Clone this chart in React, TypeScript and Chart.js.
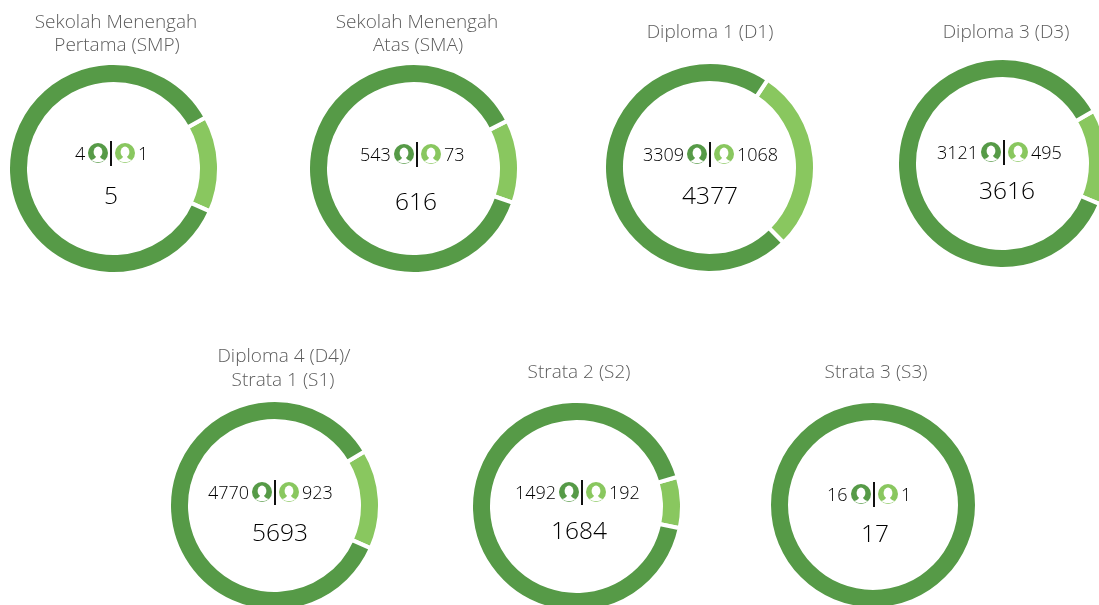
import React, { useEffect, useRef } from "react";
import { Chart, registerables } from "chart.js";

Chart.register(...registerables);

const DARK = "#569a47";
const LIGHT = "#89c75f";
const FONT = '"Open Sans", sans-serif';

const titles = [
  ["Sekolah Menengah", "Pertama (SMP)"],
  ["Sekolah Menengah", "Atas (SMA)"],
  ["Diploma 1 (D1)"],
  ["Diploma 3 (D3)"],
  ["Diploma 4 (D4)/", "Strata 1 (S1)"],
  ["Strata 2 (S2)"],
  ["Strata 3 (S3)"],
];
const male = [4, 543, 3309, 3121, 4770, 1492, 16];
const female = [1, 73, 1068, 495, 923, 192, 1];
const totals = [5, 616, 4377, 3616, 5693, 1684, 17];

const lightArcDegrees = [53, 46, 102, 52.6, 55, 28.3, 0];
const lightArcStart = [61, 63, 33.5, 60, 59, 73.6, 0];

const centerX = [113.5, 413.5, 709.5, 1002.5, 274.5, 576.5, 873.3];
const centerY = [168, 168.5, 167, 163.5, 505, 506, 504.5];
const radii = [103.5, 103.5, 103.5, 103.5, 103.5, 103.5, 102];
const titleX = [[116, 116.5], [416.5, 418], [710], [1005.5], [283.5, 283], [579], [876]];
const titleY = [[21, 44], [21, 44], [31], [31], [355, 379], [371], [371]];
const dividerX = [111, 417, 710, 1004, 275, 582, 874];
const dividerY = [153, 154, 154, 152, 492, 492, 494];
const totalX = [111, 415.5, 710, 1007, 280, 579, 875];
const totalY = [195, 201, 195, 190, 532, 530, 533];

const RING = 17;
const GAP = 4;

function Person({ color, x, y }: { color: string; x: number; y: number }) {
  return (
    <svg width={20} height={20} viewBox="0 0 20 20" style={{ position: "absolute", left: x, top: y }}>
      <circle cx={10} cy={10} r={10} fill={color} />
      <ellipse cx={10} cy={9} rx={4.4} ry={5.4} fill="#fff" />
      <path d="M3 17 Q7.5 16 8.2 13 L11.8 13 Q12.5 16 17 17 Q10 21.5 3 17Z" fill="#fff" />
    </svg>
  );
}

function Donut({ i }: { i: number }) {
  const ref = useRef<HTMLCanvasElement>(null);
  const radius = radii[i];
  const gap = lightArcDegrees[i] > 0 ? GAP : 0;
  useEffect(() => {
    const light = lightArcDegrees[i];
    const chart = new Chart(ref.current!, {
      type: "doughnut",
      data: {
        labels: ["Perempuan", "Laki-laki"],
        datasets: [
          {
            data: [light, 360 - light],
            backgroundColor: [LIGHT, DARK],
            borderWidth: gap,
            borderColor: "#fff",
            borderAlign: "center",
            hoverOffset: 0,
          },
        ],
      },
      options: {
        animation: false,
        responsive: false,
        cutout: radius - RING - gap / 2,
        rotation: lightArcStart[i],
        layout: { padding: 0 },
        plugins: { legend: { display: false }, tooltip: { enabled: false } },
      },
    });
    return () => chart.destroy();
  }, [i, radius, gap]);
  const size = Math.round(radius * 2 + gap * 2);
  const dx = dividerX[i];
  const dy = dividerY[i];
  const smooth = { willChange: "transform" } as const;
  return (
    <>
      <canvas
        ref={ref}
        width={size}
        height={size}
        style={{ position: "absolute", left: centerX[i] - size / 2, top: centerY[i] - size / 2, width: size, height: size }}
      />
      {titles[i].map((t, k) => (
        <div
          key={t}
          style={{
            ...smooth,
            position: "absolute",
            left: titleX[i][k] - 120,
            width: 240,
            top: titleY[i][k] - 12,
            textAlign: "center",
            color: "#5c5c5c",
            fontSize: 19,
            lineHeight: "24px",
            fontFamily: FONT,
            fontWeight: 300,
          }}
        >
          {t}
        </div>
      ))}
      <div style={{ position: "absolute", left: dx - 1, top: dy - 12, width: 2, height: 25, background: "#111" }} />
      <Person color={DARK} x={dx - 23} y={dy - 10} />
      <Person color={LIGHT} x={dx + 4} y={dy - 10} />
      <div style={{ ...smooth, position: "absolute", right: 1099 - (dx - 26), top: dy - 12, fontSize: 18, fontWeight: 300, lineHeight: "24px", color: "#000", fontFamily: FONT }}>
        {male[i]}
      </div>
      <div style={{ ...smooth, position: "absolute", left: dx + 27, top: dy - 12, fontSize: 18, fontWeight: 300, lineHeight: "24px", color: "#000", fontFamily: FONT }}>
        {female[i]}
      </div>
      <div
        style={{
          ...smooth,
          position: "absolute",
          left: totalX[i] - 60,
          width: 120,
          top: totalY[i] - 15,
          textAlign: "center",
          fontSize: 24.5,
          fontWeight: 300,
          lineHeight: "30px",
          color: "#000",
          fontFamily: FONT,
        }}
      >
        {totals[i]}
      </div>
    </>
  );
}

export default function App() {
  return (
    <div style={{ position: "fixed", left: 0, top: 0, width: 1099, height: 605, overflow: "hidden", background: "#fff" }}>
      {titles.map((_, i) => (
        <Donut key={i} i={i} />
      ))}
    </div>
  );
}
